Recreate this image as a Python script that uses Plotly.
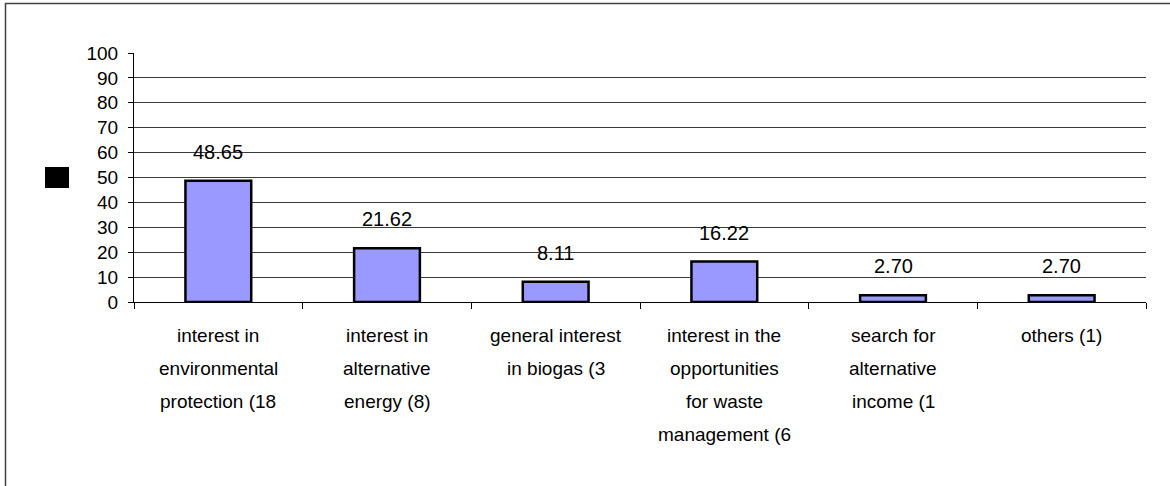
import plotly.graph_objects as go

categories = [
    "interest in environmental protection (18",
    "interest in alternative energy (8)",
    "general interest in biogas (3",
    "interest in the opportunities for waste management (6",
    "search for alternative income (1",
    "others (1)",
]
label_lines = [
    ["interest in", "environmental", "protection (18"],
    ["interest in", "alternative", "energy (8)"],
    ["general interest", "in biogas (3"],
    ["interest in the", "opportunities", "for waste", "management (6"],
    ["search for", "alternative", "income (1"],
    ["others (1)"],
]
values = [48.65, 21.62, 8.11, 16.22, 2.70, 2.70]
y_ticks = [0, 10, 20, 30, 40, 50, 60, 70, 80, 90, 100]

FONT = "Liberation Sans, Arial, sans-serif"

W, H = 1170, 486
L, T = 134, 53
R = W - 1146
B = H - 302
pw, ph = W - L - R, H - T - B

def px_x(px):
    return (px - L) / pw

def px_y(py):
    return 1 - (py - T) / ph

fig = go.Figure()
fig.add_trace(go.Bar(
    x=categories,
    y=values,
    width=0.39,
    marker=dict(color="#9999FF", line=dict(color="black", width=2.5)),
    showlegend=False,
    hoverinfo="x+y",
))

annotations = []
for c, v in zip(categories, values):
    annotations.append(dict(
        x=c, y=v, xref="x", yref="y", text=f"{v:.2f}",
        showarrow=False, yanchor="middle", yshift=29,
        font=dict(family=FONT, size=20, color="black"),
    ))
for c, lines in zip(categories, label_lines):
    for i, line in enumerate(lines):
        annotations.append(dict(
            x=c, y=0, xref="x", yref="paper", text=line,
            showarrow=False, yanchor="middle", yshift=-33 - 33 * i,
            font=dict(family=FONT, size=19, color="black"),
        ))

fig.update_layout(
    width=W, height=H,
    margin=dict(l=L, r=R, t=T, b=B, pad=0),
    paper_bgcolor="white", plot_bgcolor="white",
    font=dict(family=FONT, size=19, color="black"),
    bargap=0.61,
    annotations=annotations,
    shapes=[
        # outer chart-area border
        dict(type="rect", xref="paper", yref="paper",
             x0=px_x(5.5), x1=px_x(1190), y0=px_y(3.5), y1=px_y(520),
             line=dict(color="#404040", width=1.5), fillcolor="rgba(0,0,0,0)", layer="below"),
        # legend key
        dict(type="rect", xref="paper", yref="paper",
             x0=px_x(45), x1=px_x(69), y0=px_y(188), y1=px_y(167),
             line=dict(color="black", width=0), fillcolor="black"),
    ],
)
fig.update_xaxes(
    type="category",
    showticklabels=False,
    showline=True, linecolor="black", linewidth=1,
    ticks="outside", tickson="boundaries", ticklen=6, tickcolor="black", tickwidth=1,
    showgrid=False, zeroline=False,
)
fig.update_yaxes(
    range=[0, 100], tickvals=y_ticks, ticktext=[str(t) for t in y_ticks],
    showline=True, linecolor="black", linewidth=1,
    ticks="outside", ticklen=5, tickcolor="black", tickwidth=1,
    ticklabelstandoff=6,
    showgrid=True, gridcolor="#3a3a3a", gridwidth=1,
    zeroline=False,
    tickfont=dict(family=FONT, size=19, color="black"),
)

fig.write_html("out.html", config={"displayModeBar": False},
               post_script="document.body.style.margin='0';")
